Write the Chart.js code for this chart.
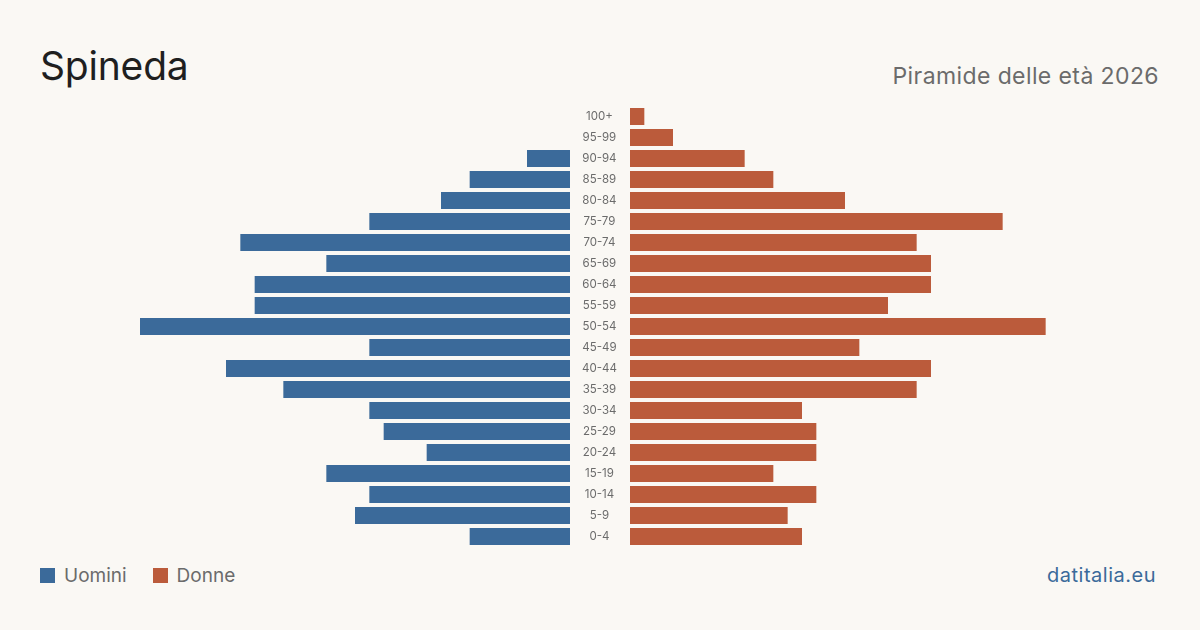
<!DOCTYPE html>
<html>
<head>
<meta charset="utf-8">
<script src="https://cdn.jsdelivr.net/npm/chart.js@4.4.1/dist/chart.umd.min.js"></script>
<style>
    html, body { margin: 0; padding: 0; }
    body {
        width: 1200px; height: 630px; background: #faf8f4; position: relative; overflow: hidden;
        font-family: Inter, 'Noto Sans', sans-serif;
    }
    .title { position: absolute; left: 40px; top: 42px; font-size: 39px; color: #1f1f1f; letter-spacing: -0.2px; }
    .subtitle { position: absolute; right: 41px; top: 62px; font-size: 23px; color: #6b6b6b; letter-spacing: 0.4px; }
    .box { position: absolute; top: 106px; height: 441px; }
    #left { left: 140px; width: 490px; }
    #right { left: 630px; width: 430px; }
    .legend { position: absolute; left: 40px; top: 564px; font-size: 19px; color: #6b6b6b; display: flex; align-items: center; }
    .legend span.sw { display: inline-block; width: 15px; height: 15px; margin-right: 9px; }
    .legend span.lb { margin-right: 26px; }
    .site { position: absolute; right: 44px; top: 563px; font-size: 20px; color: #3b6a9a; letter-spacing: 0.5px; }
</style>
</head>
<body>
<div class="title">Spineda</div>
<div class="subtitle">Piramide delle età 2026</div>
<div class="box" id="left"><canvas id="menChart"></canvas></div>
<div class="box" id="right"><canvas id="womenChart"></canvas></div>
<div class="legend">
    <span class="sw" style="background:#3b6a9a"></span><span class="lb">Uomini</span>
    <span class="sw" style="background:#bb5b3b"></span><span class="lb">Donne</span>
</div>
<div class="site">datitalia.eu</div>
<script>
    // Age classes, oldest on top
    const ageGroups = ['100+', '95-99', '90-94', '85-89', '80-84', '75-79', '70-74', '65-69', '60-64', '55-59',
        '50-54', '45-49', '40-44', '35-39', '30-34', '25-29', '20-24', '15-19', '10-14', '5-9', '0-4'];
    const men = [0, 0, 3, 7, 9, 14, 23, 17, 22, 22, 30, 14, 24, 20, 14, 13, 10, 17, 14, 15, 7];
    const women = [1, 3, 8, 10, 15, 26, 20, 21, 21, 18, 29, 16, 21, 20, 12, 13, 13, 10, 13, 11, 12];
    const axisMax = 30;

    Chart.defaults.font.family = "Inter, 'Noto Sans', sans-serif";
    Chart.defaults.animation = false;

    const common = {
        indexAxis: 'y',
        responsive: true,
        maintainAspectRatio: false,
        layout: { padding: 0 },
        plugins: { legend: { display: false }, tooltip: { enabled: false } }
    };

    new Chart(document.getElementById('menChart'), {
        type: 'bar',
        data: {
            labels: ageGroups,
            datasets: [{
                label: 'Uomini',
                data: men,
                backgroundColor: '#3b6a9a',
                categoryPercentage: 1,
                barPercentage: 0.81
            }]
        },
        options: {
            ...common,
            scales: {
                x: { reverse: true, min: 0, max: axisMax, display: false },
                y: {
                    position: 'right',
                    // labels sit in the 60px gap between the two halves
                    afterFit: scale => {
                        scale.width = 60;
                        scale.paddingTop = 0;
                        scale.paddingBottom = 0;
                    },
                    grid: { display: false },
                    border: { display: false },
                    ticks: {
                        crossAlign: 'center',
                        padding: 4,
                        color: '#6b6b6b',
                        font: { size: 11.5 }
                    }
                }
            }
        }
    });

    new Chart(document.getElementById('womenChart'), {
        type: 'bar',
        data: {
            labels: ageGroups,
            datasets: [{
                label: 'Donne',
                data: women,
                backgroundColor: '#bb5b3b',
                categoryPercentage: 1,
                barPercentage: 0.81
            }]
        },
        options: {
            ...common,
            scales: {
                x: { min: 0, max: axisMax, display: false },
                y: { display: false }
            }
        }
    });
</script>
</body>
</html>
